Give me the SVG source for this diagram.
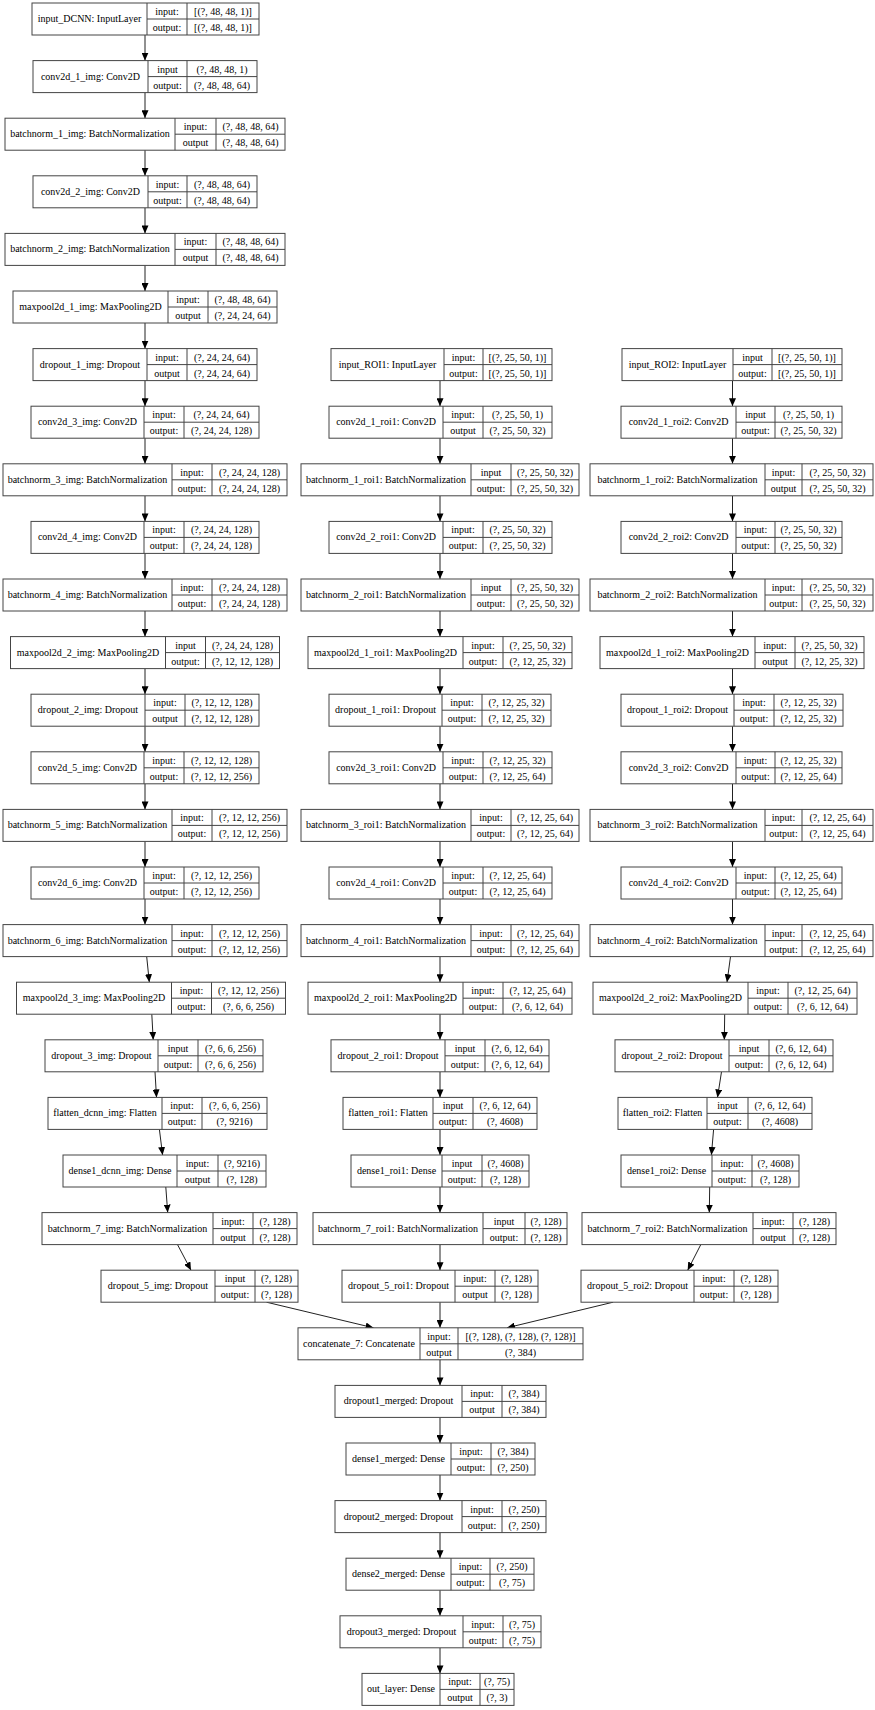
<svg xmlns="http://www.w3.org/2000/svg" width="875" height="1710" viewBox="0 0 875 1710">
<style>
  .node rect { fill: #fff; stroke: #444; stroke-width: 1; }
  .node path { fill: none; stroke: #444; stroke-width: 1; }
  text { font-family: "Liberation Serif", "Times New Roman", serif; font-size: 10px; text-anchor: middle; fill: #000; }
  .edges line { stroke: #222; stroke-width: 1; marker-end: url(#ah); }
</style>
<defs>
  <marker id="ah" markerUnits="userSpaceOnUse" markerWidth="8" markerHeight="7" viewBox="0 0 8 7" refX="8" refY="3.5" orient="auto">
    <path d="M0,0L8,3.5L0,7z" fill="#000"/>
  </marker>
</defs>
<rect width="875" height="1710" fill="#fff"/>

<g id="edges" class="edges">
  <!-- image branch -->
  <line x1="145" y1="35" x2="145" y2="60.6"/>
  <line x1="145" y1="92.6" x2="145" y2="118.2"/>
  <line x1="145" y1="150.2" x2="145" y2="175.8"/>
  <line x1="145" y1="207.8" x2="145" y2="233.4"/>
  <line x1="145" y1="265.4" x2="145" y2="291"/>
  <line x1="145" y1="323" x2="145" y2="348.6"/>
  <line x1="145" y1="380.6" x2="145" y2="406.2"/>
  <line x1="145" y1="438.2" x2="145" y2="463.8"/>
  <line x1="145" y1="495.8" x2="145" y2="521.4"/>
  <line x1="145" y1="553.4" x2="145" y2="579"/>
  <line x1="145" y1="611" x2="145" y2="636.6"/>
  <line x1="145" y1="668.6" x2="145" y2="694.2"/>
  <line x1="145" y1="726.2" x2="145" y2="751.8"/>
  <line x1="145" y1="783.8" x2="145" y2="809.4"/>
  <line x1="145" y1="841.4" x2="145" y2="867"/>
  <line x1="145" y1="899" x2="145" y2="924.6"/>
  <line x1="146.7" y1="956.6" x2="149.3" y2="982.2"/>
  <line x1="151.8" y1="1014.2" x2="153.2" y2="1039.8"/>
  <line x1="155" y1="1071.8" x2="156.5" y2="1097.4"/>
  <line x1="159.4" y1="1129.4" x2="162.6" y2="1155"/>
  <line x1="165.8" y1="1187" x2="167.7" y2="1212.6"/>
  <line x1="177.5" y1="1244.6" x2="191" y2="1270.2"/>
  <line x1="266.5" y1="1302.2" x2="373.5" y2="1327.8"/>
  <!-- roi1 branch -->
  <line x1="440" y1="380.6" x2="440" y2="406.2"/>
  <line x1="440" y1="438.2" x2="440" y2="463.8"/>
  <line x1="440" y1="495.8" x2="440" y2="521.4"/>
  <line x1="440" y1="553.4" x2="440" y2="579"/>
  <line x1="440" y1="611" x2="440" y2="636.6"/>
  <line x1="440" y1="668.6" x2="440" y2="694.2"/>
  <line x1="440" y1="726.2" x2="440" y2="751.8"/>
  <line x1="440" y1="783.8" x2="440" y2="809.4"/>
  <line x1="440" y1="841.4" x2="440" y2="867"/>
  <line x1="440" y1="899" x2="440" y2="924.6"/>
  <line x1="440" y1="956.6" x2="440" y2="982.2"/>
  <line x1="440" y1="1014.2" x2="440" y2="1039.8"/>
  <line x1="440" y1="1071.8" x2="440" y2="1097.4"/>
  <line x1="440" y1="1129.4" x2="440" y2="1155"/>
  <line x1="440" y1="1187" x2="440" y2="1212.6"/>
  <line x1="440" y1="1244.6" x2="440" y2="1270.2"/>
  <line x1="440" y1="1302.2" x2="440" y2="1327.8"/>
  <!-- roi2 branch -->
  <line x1="732.5" y1="380.6" x2="732.5" y2="406.2"/>
  <line x1="732.5" y1="438.2" x2="732.5" y2="463.8"/>
  <line x1="732.5" y1="495.8" x2="732.5" y2="521.4"/>
  <line x1="732.5" y1="553.4" x2="732.5" y2="579"/>
  <line x1="732.5" y1="611" x2="732.5" y2="636.6"/>
  <line x1="732.5" y1="668.6" x2="732.5" y2="694.2"/>
  <line x1="732.5" y1="726.2" x2="732.5" y2="751.8"/>
  <line x1="732.5" y1="783.8" x2="732.5" y2="809.4"/>
  <line x1="732.5" y1="841.4" x2="732.5" y2="867"/>
  <line x1="732.5" y1="899" x2="732.5" y2="924.6"/>
  <line x1="730.5" y1="956.6" x2="727" y2="982.2"/>
  <line x1="724.7" y1="1014.2" x2="724.3" y2="1039.8"/>
  <line x1="721.5" y1="1071.8" x2="717.5" y2="1097.4"/>
  <line x1="713.6" y1="1129.4" x2="711.4" y2="1155"/>
  <line x1="709.7" y1="1187" x2="709.3" y2="1212.6"/>
  <line x1="700.8" y1="1244.6" x2="687.7" y2="1270.2"/>
  <line x1="613.1" y1="1302.2" x2="507" y2="1327.8"/>
  <!-- merged head -->
  <line x1="440" y1="1359.8" x2="440" y2="1385.4"/>
  <line x1="440" y1="1417.4" x2="440" y2="1443"/>
  <line x1="440" y1="1475" x2="440" y2="1500.6"/>
  <line x1="440" y1="1532.6" x2="440" y2="1558.2"/>
  <line x1="440" y1="1590.2" x2="440" y2="1615.8"/>
  <line x1="440" y1="1647.8" x2="440" y2="1673.4"/>
</g>

<!-- image branch -->
<g id="input_DCNN" class="node" transform="translate(0,3)"><rect x="32" y="0" width="227" height="32"/><path d="M147,0V32M187,0V32M147,16H259"/><text x="89.5" y="19">input_DCNN: InputLayer</text><text x="167" y="12">input:</text><text x="223" y="12">[(?, 48, 48, 1)]</text><text x="167" y="28">output:</text><text x="223" y="28">[(?, 48, 48, 1)]</text></g>
<g id="conv2d_1_img" class="node" transform="translate(0,60.6)"><rect x="33" y="0" width="224" height="32"/><path d="M148,0V32M187,0V32M148,16H257"/><text x="90.5" y="19">conv2d_1_img: Conv2D</text><text x="167.5" y="12">input</text><text x="222" y="12">(?, 48, 48, 1)</text><text x="167.5" y="28">output:</text><text x="222" y="28">(?, 48, 48, 64)</text></g>
<g id="batchnorm_1_img" class="node" transform="translate(0,118.2)"><rect x="5" y="0" width="280" height="32"/><path d="M175,0V32M216,0V32M175,16H285"/><text x="90" y="19">batchnorm_1_img: BatchNormalization</text><text x="195.5" y="12">input:</text><text x="250.5" y="12">(?, 48, 48, 64)</text><text x="195.5" y="28">output</text><text x="250.5" y="28">(?, 48, 48, 64)</text></g>
<g id="conv2d_2_img" class="node" transform="translate(0,175.8)"><rect x="33" y="0" width="224" height="32"/><path d="M148,0V32M187,0V32M148,16H257"/><text x="90.5" y="19">conv2d_2_img: Conv2D</text><text x="167.5" y="12">input:</text><text x="222" y="12">(?, 48, 48, 64)</text><text x="167.5" y="28">output:</text><text x="222" y="28">(?, 48, 48, 64)</text></g>
<g id="batchnorm_2_img" class="node" transform="translate(0,233.4)"><rect x="5" y="0" width="280" height="32"/><path d="M175,0V32M216,0V32M175,16H285"/><text x="90" y="19">batchnorm_2_img: BatchNormalization</text><text x="195.5" y="12">input:</text><text x="250.5" y="12">(?, 48, 48, 64)</text><text x="195.5" y="28">output</text><text x="250.5" y="28">(?, 48, 48, 64)</text></g>
<g id="maxpool2d_1_img" class="node" transform="translate(0,291)"><rect x="13" y="0" width="264" height="32"/><path d="M168,0V32M208,0V32M168,16H277"/><text x="90.5" y="19">maxpool2d_1_img: MaxPooling2D</text><text x="188" y="12">input:</text><text x="242.5" y="12">(?, 48, 48, 64)</text><text x="188" y="28">output</text><text x="242.5" y="28">(?, 24, 24, 64)</text></g>
<g id="dropout_1_img" class="node" transform="translate(0,348.6)"><rect x="33" y="0" width="224" height="32"/><path d="M147,0V32M187,0V32M147,16H257"/><text x="90" y="19">dropout_1_img: Dropout</text><text x="167" y="12">input:</text><text x="222" y="12">(?, 24, 24, 64)</text><text x="167" y="28">output</text><text x="222" y="28">(?, 24, 24, 64)</text></g>
<g id="conv2d_3_img" class="node" transform="translate(0,406.2)"><rect x="31" y="0" width="228" height="32"/><path d="M144,0V32M184,0V32M144,16H259"/><text x="87.5" y="19">conv2d_3_img: Conv2D</text><text x="164" y="12">input:</text><text x="221.5" y="12">(?, 24, 24, 64)</text><text x="164" y="28">output:</text><text x="221.5" y="28">(?, 24, 24, 128)</text></g>
<g id="batchnorm_3_img" class="node" transform="translate(0,463.8)"><rect x="3" y="0" width="284" height="32"/><path d="M172,0V32M212,0V32M172,16H287"/><text x="87.5" y="19">batchnorm_3_img: BatchNormalization</text><text x="192" y="12">input:</text><text x="249.5" y="12">(?, 24, 24, 128)</text><text x="192" y="28">output:</text><text x="249.5" y="28">(?, 24, 24, 128)</text></g>
<g id="conv2d_4_img" class="node" transform="translate(0,521.4)"><rect x="31" y="0" width="228" height="32"/><path d="M144,0V32M184,0V32M144,16H259"/><text x="87.5" y="19">conv2d_4_img: Conv2D</text><text x="164" y="12">input:</text><text x="221.5" y="12">(?, 24, 24, 128)</text><text x="164" y="28">output:</text><text x="221.5" y="28">(?, 24, 24, 128)</text></g>
<g id="batchnorm_4_img" class="node" transform="translate(0,579)"><rect x="3" y="0" width="284" height="32"/><path d="M172,0V32M212,0V32M172,16H287"/><text x="87.5" y="19">batchnorm_4_img: BatchNormalization</text><text x="192" y="12">input:</text><text x="249.5" y="12">(?, 24, 24, 128)</text><text x="192" y="28">output:</text><text x="249.5" y="28">(?, 24, 24, 128)</text></g>
<g id="maxpool2d_2_img" class="node" transform="translate(0,636.6)"><rect x="10.5" y="0" width="269" height="32"/><path d="M165.5,0V32M205.5,0V32M165.5,16H279.5"/><text x="88" y="19">maxpool2d_2_img: MaxPooling2D</text><text x="185.5" y="12">input</text><text x="242.5" y="12">(?, 24, 24, 128)</text><text x="185.5" y="28">output:</text><text x="242.5" y="28">(?, 12, 12, 128)</text></g>
<g id="dropout_2_img" class="node" transform="translate(0,694.2)"><rect x="31" y="0" width="228" height="32"/><path d="M145,0V32M185,0V32M145,16H259"/><text x="88" y="19">dropout_2_img: Dropout</text><text x="165" y="12">input:</text><text x="222" y="12">(?, 12, 12, 128)</text><text x="165" y="28">output</text><text x="222" y="28">(?, 12, 12, 128)</text></g>
<g id="conv2d_5_img" class="node" transform="translate(0,751.8)"><rect x="31" y="0" width="228" height="32"/><path d="M144,0V32M184,0V32M144,16H259"/><text x="87.5" y="19">conv2d_5_img: Conv2D</text><text x="164" y="12">input:</text><text x="221.5" y="12">(?, 12, 12, 128)</text><text x="164" y="28">output:</text><text x="221.5" y="28">(?, 12, 12, 256)</text></g>
<g id="batchnorm_5_img" class="node" transform="translate(0,809.4)"><rect x="3" y="0" width="284" height="32"/><path d="M172,0V32M212,0V32M172,16H287"/><text x="87.5" y="19">batchnorm_5_img: BatchNormalization</text><text x="192" y="12">input:</text><text x="249.5" y="12">(?, 12, 12, 256)</text><text x="192" y="28">output:</text><text x="249.5" y="28">(?, 12, 12, 256)</text></g>
<g id="conv2d_6_img" class="node" transform="translate(0,867)"><rect x="31" y="0" width="228" height="32"/><path d="M144,0V32M184,0V32M144,16H259"/><text x="87.5" y="19">conv2d_6_img: Conv2D</text><text x="164" y="12">input:</text><text x="221.5" y="12">(?, 12, 12, 256)</text><text x="164" y="28">output:</text><text x="221.5" y="28">(?, 12, 12, 256)</text></g>
<g id="batchnorm_6_img" class="node" transform="translate(0,924.6)"><rect x="3" y="0" width="284" height="32"/><path d="M172,0V32M212,0V32M172,16H287"/><text x="87.5" y="19">batchnorm_6_img: BatchNormalization</text><text x="192" y="12">input:</text><text x="249.5" y="12">(?, 12, 12, 256)</text><text x="192" y="28">output:</text><text x="249.5" y="28">(?, 12, 12, 256)</text></g>
<g id="maxpool2d_3_img" class="node" transform="translate(0,982.2)"><rect x="16.5" y="0" width="269" height="32"/><path d="M171.5,0V32M211.5,0V32M171.5,16H285.5"/><text x="94" y="19">maxpool2d_3_img: MaxPooling2D</text><text x="191.5" y="12">input:</text><text x="248.5" y="12">(?, 12, 12, 256)</text><text x="191.5" y="28">output:</text><text x="248.5" y="28">(?, 6, 6, 256)</text></g>
<g id="dropout_3_img" class="node" transform="translate(0,1039.8)"><rect x="45" y="0" width="218" height="32"/><path d="M158,0V32M198,0V32M158,16H263"/><text x="101.5" y="19">dropout_3_img: Dropout</text><text x="178" y="12">input</text><text x="230.5" y="12">(?, 6, 6, 256)</text><text x="178" y="28">output:</text><text x="230.5" y="28">(?, 6, 6, 256)</text></g>
<g id="flatten_dcnn_img" class="node" transform="translate(0,1097.4)"><rect x="48" y="0" width="219" height="32"/><path d="M162,0V32M202,0V32M162,16H267"/><text x="105" y="19">flatten_dcnn_img: Flatten</text><text x="182" y="12">input:</text><text x="234.5" y="12">(?, 6, 6, 256)</text><text x="182" y="28">output:</text><text x="234.5" y="28">(?, 9216)</text></g>
<g id="dense1_dcnn_img" class="node" transform="translate(0,1155)"><rect x="63" y="0" width="203" height="32"/><path d="M177,0V32M218,0V32M177,16H266"/><text x="120" y="19">dense1_dcnn_img: Dense</text><text x="197.5" y="12">input:</text><text x="242" y="12">(?, 9216)</text><text x="197.5" y="28">output</text><text x="242" y="28">(?, 128)</text></g>
<g id="batchnorm_7_img" class="node" transform="translate(0,1212.6)"><rect x="42" y="0" width="255" height="32"/><path d="M213,0V32M253,0V32M213,16H297"/><text x="127.5" y="19">batchnorm_7_img: BatchNormalization</text><text x="233" y="12">input:</text><text x="275" y="12">(?, 128)</text><text x="233" y="28">output</text><text x="275" y="28">(?, 128)</text></g>
<g id="dropout_5_img" class="node" transform="translate(0,1270.2)"><rect x="101" y="0" width="197" height="32"/><path d="M215,0V32M255,0V32M215,16H298"/><text x="158" y="19">dropout_5_img: Dropout</text><text x="235" y="12">input</text><text x="276.5" y="12">(?, 128)</text><text x="235" y="28">output:</text><text x="276.5" y="28">(?, 128)</text></g>

<!-- roi1 branch -->
<g id="input_ROI1" class="node" transform="translate(0,348.6)"><rect x="331" y="0" width="221" height="32"/><path d="M444,0V32M483,0V32M444,16H552"/><text x="387.5" y="19">input_ROI1: InputLayer</text><text x="463.5" y="12">input:</text><text x="517.5" y="12">[(?, 25, 50, 1)]</text><text x="463.5" y="28">output:</text><text x="517.5" y="28">[(?, 25, 50, 1)]</text></g>
<g id="conv2d_1_roi1" class="node" transform="translate(0,406.2)"><rect x="329" y="0" width="223" height="32"/><path d="M443,0V32M483,0V32M443,16H552"/><text x="386" y="19">conv2d_1_roi1: Conv2D</text><text x="463" y="12">input:</text><text x="517.5" y="12">(?, 25, 50, 1)</text><text x="463" y="28">output</text><text x="517.5" y="28">(?, 25, 50, 32)</text></g>
<g id="batchnorm_1_roi1" class="node" transform="translate(0,463.8)"><rect x="301" y="0" width="278" height="32"/><path d="M471,0V32M511,0V32M471,16H579"/><text x="386" y="19">batchnorm_1_roi1: BatchNormalization</text><text x="491" y="12">input</text><text x="545" y="12">(?, 25, 50, 32)</text><text x="491" y="28">output:</text><text x="545" y="28">(?, 25, 50, 32)</text></g>
<g id="conv2d_2_roi1" class="node" transform="translate(0,521.4)"><rect x="329" y="0" width="223" height="32"/><path d="M443,0V32M483,0V32M443,16H552"/><text x="386" y="19">conv2d_2_roi1: Conv2D</text><text x="463" y="12">input:</text><text x="517.5" y="12">(?, 25, 50, 32)</text><text x="463" y="28">output:</text><text x="517.5" y="28">(?, 25, 50, 32)</text></g>
<g id="batchnorm_2_roi1" class="node" transform="translate(0,579)"><rect x="301" y="0" width="278" height="32"/><path d="M471,0V32M511,0V32M471,16H579"/><text x="386" y="19">batchnorm_2_roi1: BatchNormalization</text><text x="491" y="12">input</text><text x="545" y="12">(?, 25, 50, 32)</text><text x="491" y="28">output:</text><text x="545" y="28">(?, 25, 50, 32)</text></g>
<g id="maxpool2d_1_roi1" class="node" transform="translate(0,636.6)"><rect x="308" y="0" width="264" height="32"/><path d="M463,0V32M503,0V32M463,16H572"/><text x="385.5" y="19">maxpool2d_1_roi1: MaxPooling2D</text><text x="483" y="12">input:</text><text x="537.5" y="12">(?, 25, 50, 32)</text><text x="483" y="28">output:</text><text x="537.5" y="28">(?, 12, 25, 32)</text></g>
<g id="dropout_1_roi1" class="node" transform="translate(0,694.2)"><rect x="329" y="0" width="222" height="32"/><path d="M442,0V32M482,0V32M442,16H551"/><text x="385.5" y="19">dropout_1_roi1: Dropout</text><text x="462" y="12">input:</text><text x="516.5" y="12">(?, 12, 25, 32)</text><text x="462" y="28">output:</text><text x="516.5" y="28">(?, 12, 25, 32)</text></g>
<g id="conv2d_3_roi1" class="node" transform="translate(0,751.8)"><rect x="329" y="0" width="223" height="32"/><path d="M443,0V32M483,0V32M443,16H552"/><text x="386" y="19">conv2d_3_roi1: Conv2D</text><text x="463" y="12">input:</text><text x="517.5" y="12">(?, 12, 25, 32)</text><text x="463" y="28">output:</text><text x="517.5" y="28">(?, 12, 25, 64)</text></g>
<g id="batchnorm_3_roi1" class="node" transform="translate(0,809.4)"><rect x="301" y="0" width="278" height="32"/><path d="M471,0V32M511,0V32M471,16H579"/><text x="386" y="19">batchnorm_3_roi1: BatchNormalization</text><text x="491" y="12">input:</text><text x="545" y="12">(?, 12, 25, 64)</text><text x="491" y="28">output:</text><text x="545" y="28">(?, 12, 25, 64)</text></g>
<g id="conv2d_4_roi1" class="node" transform="translate(0,867)"><rect x="329" y="0" width="223" height="32"/><path d="M443,0V32M483,0V32M443,16H552"/><text x="386" y="19">conv2d_4_roi1: Conv2D</text><text x="463" y="12">input:</text><text x="517.5" y="12">(?, 12, 25, 64)</text><text x="463" y="28">output:</text><text x="517.5" y="28">(?, 12, 25, 64)</text></g>
<g id="batchnorm_4_roi1" class="node" transform="translate(0,924.6)"><rect x="301" y="0" width="278" height="32"/><path d="M471,0V32M511,0V32M471,16H579"/><text x="386" y="19">batchnorm_4_roi1: BatchNormalization</text><text x="491" y="12">input:</text><text x="545" y="12">(?, 12, 25, 64)</text><text x="491" y="28">output:</text><text x="545" y="28">(?, 12, 25, 64)</text></g>
<g id="maxpool2d_2_roi1" class="node" transform="translate(0,982.2)"><rect x="308" y="0" width="264" height="32"/><path d="M463,0V32M503,0V32M463,16H572"/><text x="385.5" y="19">maxpool2d_2_roi1: MaxPooling2D</text><text x="483" y="12">input:</text><text x="537.5" y="12">(?, 12, 25, 64)</text><text x="483" y="28">output:</text><text x="537.5" y="28">(?, 6, 12, 64)</text></g>
<g id="dropout_2_roi1" class="node" transform="translate(0,1039.8)"><rect x="331" y="0" width="218" height="32"/><path d="M445,0V32M485,0V32M445,16H549"/><text x="388" y="19">dropout_2_roi1: Dropout</text><text x="465" y="12">input</text><text x="517" y="12">(?, 6, 12, 64)</text><text x="465" y="28">output:</text><text x="517" y="28">(?, 6, 12, 64)</text></g>
<g id="flatten_roi1" class="node" transform="translate(0,1097.4)"><rect x="343" y="0" width="194" height="32"/><path d="M433,0V32M473,0V32M433,16H537"/><text x="388" y="19">flatten_roi1: Flatten</text><text x="453" y="12">input</text><text x="505" y="12">(?, 6, 12, 64)</text><text x="453" y="28">output:</text><text x="505" y="28">(?, 4608)</text></g>
<g id="dense1_roi1" class="node" transform="translate(0,1155)"><rect x="351" y="0" width="178" height="32"/><path d="M442,0V32M482,0V32M442,16H529"/><text x="396.5" y="19">dense1_roi1: Dense</text><text x="462" y="12">input</text><text x="505.5" y="12">(?, 4608)</text><text x="462" y="28">output:</text><text x="505.5" y="28">(?, 128)</text></g>
<g id="batchnorm_7_roi1" class="node" transform="translate(0,1212.6)"><rect x="313" y="0" width="254" height="32"/><path d="M483,0V32M525,0V32M483,16H567"/><text x="398" y="19">batchnorm_7_roi1: BatchNormalization</text><text x="504" y="12">input</text><text x="546" y="12">(?, 128)</text><text x="504" y="28">output:</text><text x="546" y="28">(?, 128)</text></g>
<g id="dropout_5_roi1" class="node" transform="translate(0,1270.2)"><rect x="342" y="0" width="196" height="32"/><path d="M455,0V32M495,0V32M455,16H538"/><text x="398.5" y="19">dropout_5_roi1: Dropout</text><text x="475" y="12">input:</text><text x="516.5" y="12">(?, 128)</text><text x="475" y="28">output</text><text x="516.5" y="28">(?, 128)</text></g>

<!-- roi2 branch -->
<g id="input_ROI2" class="node" transform="translate(0,348.6)"><rect x="622" y="0" width="220" height="32"/><path d="M733,0V32M772,0V32M733,16H842"/><text x="677.5" y="19">input_ROI2: InputLayer</text><text x="752.5" y="12">input</text><text x="807" y="12">[(?, 25, 50, 1)]</text><text x="752.5" y="28">output:</text><text x="807" y="28">[(?, 25, 50, 1)]</text></g>
<g id="conv2d_1_roi2" class="node" transform="translate(0,406.2)"><rect x="621" y="0" width="221" height="32"/><path d="M736,0V32M775,0V32M736,16H842"/><text x="678.5" y="19">conv2d_1_roi2: Conv2D</text><text x="755.5" y="12">input</text><text x="808.5" y="12">(?, 25, 50, 1)</text><text x="755.5" y="28">output:</text><text x="808.5" y="28">(?, 25, 50, 32)</text></g>
<g id="batchnorm_1_roi2" class="node" transform="translate(0,463.8)"><rect x="590" y="0" width="283" height="32"/><path d="M765,0V32M802,0V32M765,16H873"/><text x="677.5" y="19">batchnorm_1_roi2: BatchNormalization</text><text x="783.5" y="12">input:</text><text x="837.5" y="12">(?, 25, 50, 32)</text><text x="783.5" y="28">output</text><text x="837.5" y="28">(?, 25, 50, 32)</text></g>
<g id="conv2d_2_roi2" class="node" transform="translate(0,521.4)"><rect x="621" y="0" width="221" height="32"/><path d="M736,0V32M775,0V32M736,16H842"/><text x="678.5" y="19">conv2d_2_roi2: Conv2D</text><text x="755.5" y="12">input:</text><text x="808.5" y="12">(?, 25, 50, 32)</text><text x="755.5" y="28">output:</text><text x="808.5" y="28">(?, 25, 50, 32)</text></g>
<g id="batchnorm_2_roi2" class="node" transform="translate(0,579)"><rect x="590" y="0" width="283" height="32"/><path d="M765,0V32M802,0V32M765,16H873"/><text x="677.5" y="19">batchnorm_2_roi2: BatchNormalization</text><text x="783.5" y="12">input:</text><text x="837.5" y="12">(?, 25, 50, 32)</text><text x="783.5" y="28">output:</text><text x="837.5" y="28">(?, 25, 50, 32)</text></g>
<g id="maxpool2d_1_roi2" class="node" transform="translate(0,636.6)"><rect x="600" y="0" width="264" height="32"/><path d="M755,0V32M795,0V32M755,16H864"/><text x="677.5" y="19">maxpool2d_1_roi2: MaxPooling2D</text><text x="775" y="12">input:</text><text x="829.5" y="12">(?, 25, 50, 32)</text><text x="775" y="28">output</text><text x="829.5" y="28">(?, 12, 25, 32)</text></g>
<g id="dropout_1_roi2" class="node" transform="translate(0,694.2)"><rect x="621" y="0" width="222" height="32"/><path d="M734,0V32M774,0V32M734,16H843"/><text x="677.5" y="19">dropout_1_roi2: Dropout</text><text x="754" y="12">input:</text><text x="808.5" y="12">(?, 12, 25, 32)</text><text x="754" y="28">output:</text><text x="808.5" y="28">(?, 12, 25, 32)</text></g>
<g id="conv2d_3_roi2" class="node" transform="translate(0,751.8)"><rect x="621" y="0" width="221" height="32"/><path d="M736,0V32M775,0V32M736,16H842"/><text x="678.5" y="19">conv2d_3_roi2: Conv2D</text><text x="755.5" y="12">input:</text><text x="808.5" y="12">(?, 12, 25, 32)</text><text x="755.5" y="28">output:</text><text x="808.5" y="28">(?, 12, 25, 64)</text></g>
<g id="batchnorm_3_roi2" class="node" transform="translate(0,809.4)"><rect x="590" y="0" width="283" height="32"/><path d="M765,0V32M802,0V32M765,16H873"/><text x="677.5" y="19">batchnorm_3_roi2: BatchNormalization</text><text x="783.5" y="12">input:</text><text x="837.5" y="12">(?, 12, 25, 64)</text><text x="783.5" y="28">output:</text><text x="837.5" y="28">(?, 12, 25, 64)</text></g>
<g id="conv2d_4_roi2" class="node" transform="translate(0,867)"><rect x="621" y="0" width="221" height="32"/><path d="M736,0V32M775,0V32M736,16H842"/><text x="678.5" y="19">conv2d_4_roi2: Conv2D</text><text x="755.5" y="12">input:</text><text x="808.5" y="12">(?, 12, 25, 64)</text><text x="755.5" y="28">output:</text><text x="808.5" y="28">(?, 12, 25, 64)</text></g>
<g id="batchnorm_4_roi2" class="node" transform="translate(0,924.6)"><rect x="590" y="0" width="283" height="32"/><path d="M765,0V32M802,0V32M765,16H873"/><text x="677.5" y="19">batchnorm_4_roi2: BatchNormalization</text><text x="783.5" y="12">input:</text><text x="837.5" y="12">(?, 12, 25, 64)</text><text x="783.5" y="28">output:</text><text x="837.5" y="28">(?, 12, 25, 64)</text></g>
<g id="maxpool2d_2_roi2" class="node" transform="translate(0,982.2)"><rect x="593" y="0" width="264" height="32"/><path d="M748,0V32M788,0V32M748,16H857"/><text x="670.5" y="19">maxpool2d_2_roi2: MaxPooling2D</text><text x="768" y="12">input:</text><text x="822.5" y="12">(?, 12, 25, 64)</text><text x="768" y="28">output:</text><text x="822.5" y="28">(?, 6, 12, 64)</text></g>
<g id="dropout_2_roi2" class="node" transform="translate(0,1039.8)"><rect x="615" y="0" width="218" height="32"/><path d="M729,0V32M769,0V32M729,16H833"/><text x="672" y="19">dropout_2_roi2: Dropout</text><text x="749" y="12">input</text><text x="801" y="12">(?, 6, 12, 64)</text><text x="749" y="28">output:</text><text x="801" y="28">(?, 6, 12, 64)</text></g>
<g id="flatten_roi2" class="node" transform="translate(0,1097.4)"><rect x="618" y="0" width="194" height="32"/><path d="M707,0V32M748,0V32M707,16H812"/><text x="662.5" y="19">flatten_roi2: Flatten</text><text x="727.5" y="12">input</text><text x="780" y="12">(?, 6, 12, 64)</text><text x="727.5" y="28">output:</text><text x="780" y="28">(?, 4608)</text></g>
<g id="dense1_roi2" class="node" transform="translate(0,1155)"><rect x="621" y="0" width="178" height="32"/><path d="M712,0V32M752,0V32M712,16H799"/><text x="666.5" y="19">dense1_roi2: Dense</text><text x="732" y="12">input:</text><text x="775.5" y="12">(?, 4608)</text><text x="732" y="28">output:</text><text x="775.5" y="28">(?, 128)</text></g>
<g id="batchnorm_7_roi2" class="node" transform="translate(0,1212.6)"><rect x="582" y="0" width="254" height="32"/><path d="M753,0V32M793,0V32M753,16H836"/><text x="667.5" y="19">batchnorm_7_roi2: BatchNormalization</text><text x="773" y="12">input:</text><text x="814.5" y="12">(?, 128)</text><text x="773" y="28">output</text><text x="814.5" y="28">(?, 128)</text></g>
<g id="dropout_5_roi2" class="node" transform="translate(0,1270.2)"><rect x="581" y="0" width="197" height="32"/><path d="M694,0V32M734,0V32M694,16H778"/><text x="637.5" y="19">dropout_5_roi2: Dropout</text><text x="714" y="12">input:</text><text x="756" y="12">(?, 128)</text><text x="714" y="28">output:</text><text x="756" y="28">(?, 128)</text></g>

<!-- merged head -->
<g id="concatenate_7" class="node" transform="translate(0,1327.8)"><rect x="298" y="0" width="285" height="32"/><path d="M420,0V32M458,0V32M420,16H583"/><text x="359" y="19">concatenate_7: Concatenate</text><text x="439" y="12">input:</text><text x="520.5" y="12">[(?, 128), (?, 128), (?, 128)]</text><text x="439" y="28">output</text><text x="520.5" y="28">(?, 384)</text></g>
<g id="dropout1_merged" class="node" transform="translate(0,1385.4)"><rect x="335" y="0" width="211" height="32"/><path d="M462,0V32M502,0V32M462,16H546"/><text x="398.5" y="19">dropout1_merged: Dropout</text><text x="482" y="12">input:</text><text x="524" y="12">(?, 384)</text><text x="482" y="28">output</text><text x="524" y="28">(?, 384)</text></g>
<g id="dense1_merged" class="node" transform="translate(0,1443)"><rect x="346" y="0" width="189" height="32"/><path d="M451,0V32M491,0V32M451,16H535"/><text x="398.5" y="19">dense1_merged: Dense</text><text x="471" y="12">input:</text><text x="513" y="12">(?, 384)</text><text x="471" y="28">output:</text><text x="513" y="28">(?, 250)</text></g>
<g id="dropout2_merged" class="node" transform="translate(0,1500.6)"><rect x="335" y="0" width="211" height="32"/><path d="M462,0V32M502,0V32M462,16H546"/><text x="398.5" y="19">dropout2_merged: Dropout</text><text x="482" y="12">input:</text><text x="524" y="12">(?, 250)</text><text x="482" y="28">output:</text><text x="524" y="28">(?, 250)</text></g>
<g id="dense2_merged" class="node" transform="translate(0,1558.2)"><rect x="346" y="0" width="188" height="32"/><path d="M451,0V32M490,0V32M451,16H534"/><text x="398.5" y="19">dense2_merged: Dense</text><text x="470.5" y="12">input:</text><text x="512" y="12">(?, 250)</text><text x="470.5" y="28">output:</text><text x="512" y="28">(?, 75)</text></g>
<g id="dropout3_merged" class="node" transform="translate(0,1615.8)"><rect x="340" y="0" width="201" height="32"/><path d="M463,0V32M503,0V32M463,16H541"/><text x="401.5" y="19">dropout3_merged: Dropout</text><text x="483" y="12">input:</text><text x="522" y="12">(?, 75)</text><text x="483" y="28">output:</text><text x="522" y="28">(?, 75)</text></g>
<g id="out_layer" class="node" transform="translate(0,1673.4)"><rect x="362" y="0" width="152" height="32"/><path d="M440,0V32M480,0V32M440,16H514"/><text x="401" y="19">out_layer: Dense</text><text x="460" y="12">input:</text><text x="497" y="12">(?, 75)</text><text x="460" y="28">output</text><text x="497" y="28">(?, 3)</text></g>
</svg>
